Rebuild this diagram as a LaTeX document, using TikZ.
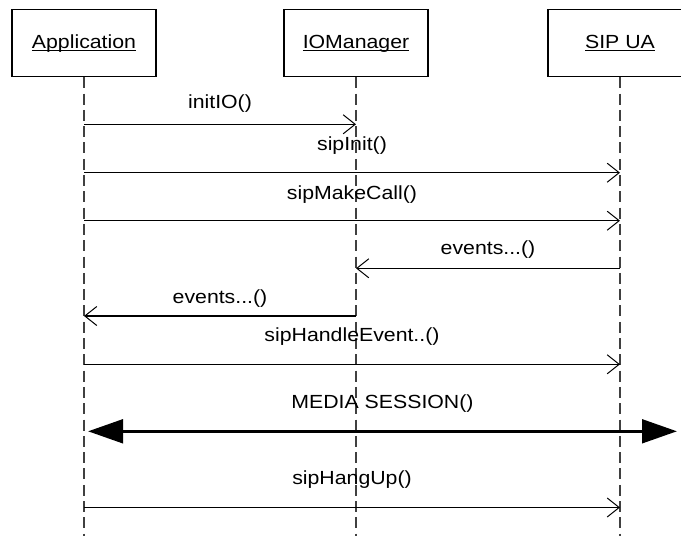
\documentclass[tikz,border=0pt]{standalone}
\usepackage{fontspec}
\setmainfont{Liberation Sans}[FakeStretch=1.12]
\usetikzlibrary{arrows.meta}

% underline sitting just below the baseline, crossing descenders
\newcommand\objname[1]{\setbox0\hbox{#1}\rlap{\rule[-2.4pt]{\wd0}{1.1pt}}\box0}

\begin{document}
\begin{tikzpicture}[x=1pt,y=-1pt,
  font=\fontsize{19}{23}\selectfont,
  objbox/.style={draw=black, line width=1.1pt, minimum width=144pt, minimum height=67.4pt,
    inner sep=0pt, text height=12pt, text depth=1.4pt},
  lifeline/.style={draw=black!75, line width=1.2pt, dash pattern=on 11pt off 5.3pt},
  msg/.style={draw=black, line width=1.1pt, -{Straight Barb[length=12pt,width=19pt,line width=1pt]}},
  session/.style={draw=black, line width=3.5pt, {Triangle[length=35pt,width=23.5pt]}-{Triangle[length=35pt,width=23.5pt]}},
  lbl/.style={anchor=base, inner sep=0pt}]

\useasboundingbox (0,0) rectangle (681,536);
\clip (0,0) rectangle (681,536);

% participants
\node[objbox] (app) at (84,43)  {\objname{Application}};
\node[objbox] (iom) at (356,43) {\objname{IOManager}};
\node[objbox] (sip) at (620,43) {\objname{SIP UA}};

% lifelines
\coordinate (bottom) at (0,536);
\draw[lifeline] (app.south) -- (app.south |- bottom);
\draw[lifeline] (iom.south) -- (iom.south |- bottom);
\draw[lifeline] (sip.south) -- (sip.south |- bottom);

% message rows
\coordinate (r1) at (0,124.3);
\coordinate (r2) at (0,172.7);
\coordinate (r3) at (0,220.7);
\coordinate (r4) at (0,268.3);
\coordinate (r5) at (0,316);
\coordinate (r6) at (0,364.3);
\coordinate (r7) at (0,431.3);
\coordinate (r8) at (0,507.5);

\draw[msg] (app |- r1) -- (iom |- r1);
\node[lbl] (l1) at (220,108) {initIO()};

\draw[msg] (app |- r2) -- (sip |- r2);
\node[lbl] (l2) at (352,150.5) {sipInit()};

\draw[msg] (app |- r3) -- (sip |- r3);
\node[lbl] (l3) at (352,199.8) {sipMakeCall()};

\draw[msg] (sip |- r4) -- (iom |- r4);
\node[lbl] (l4) at (488,254.8) {events...()};

\draw[msg] (iom |- r5) -- (app |- r5);
\node[lbl] (l5) at (220,303.8) {events...()};

\draw[msg] (app |- r6) -- (sip |- r6);
\node[lbl] (l6) at (352,341.5) {sipHandleEvent..()};

% media session spans the whole width
\coordinate (msL) at (88,431.3);
\coordinate (msR) at (677,431.3);
\draw[session] (msL) -- (msR);
\node[lbl] (l7) at (382.5,408.3) {MEDIA SESSION()};

\draw[msg] (app |- r8) -- (sip |- r8);
\node[lbl] (l8) at (352,484.8) {sipHangUp()};

\end{tikzpicture}
\end{document}
